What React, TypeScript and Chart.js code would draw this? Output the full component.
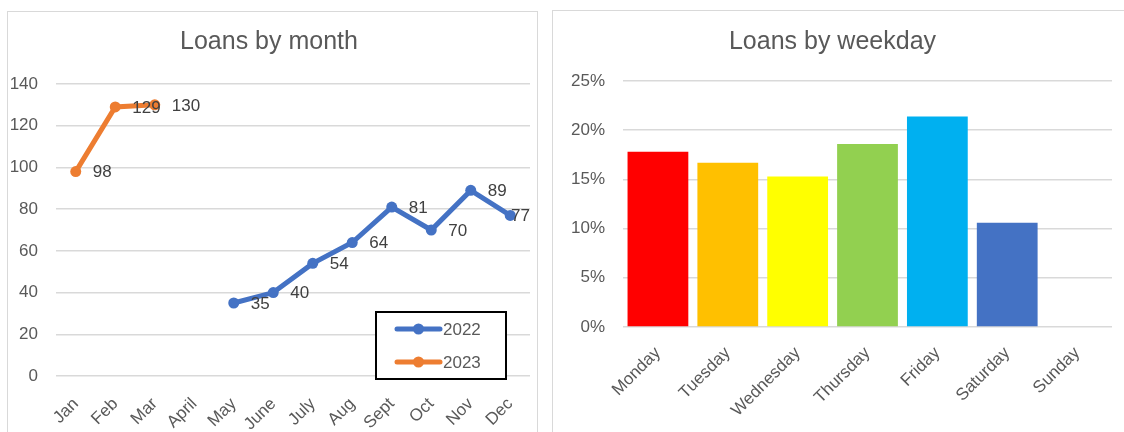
import { useEffect, useRef } from "react";
import { Chart, registerables } from "chart.js";

Chart.register(...registerables);

const FONT = "'Liberation Sans', Arial, sans-serif";
const TICK_COLOR = "#595959";
const GRID_COLOR = "#d9d9d9";

const months = ["Jan", "Feb", "Mar", "April", "May", "June", "July", "Aug", "Sept", "Oct", "Nov", "Dec"];
const loans2022 = [null, null, null, null, 35, 40, 54, 64, 81, 70, 89, 77];
const loans2023 = [98, 129, 130, null, null, null, null, null, null, null, null, null];
const seriesNames = ["2022", "2023"];
const seriesColors = ["#4472C4", "#ED7D31"];
const monthAxisMax = 140;
const monthAxisStep = 20;

const weekdays = ["Monday", "Tuesday", "Wednesday", "Thursday", "Friday", "Saturday", "Sunday"];
const weekdayShare = [17.8, 16.7, 15.3, 18.6, 21.4, 10.6, 0];
const weekdayColors = ["#FF0000", "#FFC000", "#FFFF00", "#92D050", "#00B0F0", "#4472C4", "#7F7F7F"];
const weekdayAxisMax = 25;
const weekdayAxisStep = 5;

const pointLabels = {
  id: "pointLabels",
  afterDatasetsDraw(chart: any) {
    const { ctx, chartArea } = chart;
    ctx.save();
    ctx.font = `17px ${FONT}`;
    ctx.fillStyle = "#404040";
    ctx.textBaseline = "middle";
    ctx.textAlign = "left";
    chart.data.datasets.forEach((ds: any, i: number) => {
      const meta = chart.getDatasetMeta(i);
      meta.data.forEach((pt: any, j: number) => {
        const v = ds.data[j];
        if (v == null) return;
        const text = String(v);
        const w = ctx.measureText(text).width;
        let x = pt.x + 17;
        if (x + w > chartArea.right) x = chartArea.right - w;
        ctx.fillText(text, x, pt.y + 1);
      });
    });
    ctx.restore();
  },
};

const boxLegend = {
  id: "boxLegend",
  afterDraw(chart: any) {
    const { ctx, chartArea } = chart;
    const w = 130;
    const h = 67;
    const x = chartArea.right - 24 - w;
    const y = chartArea.bottom + 3 - h;
    ctx.save();
    ctx.fillStyle = "#ffffff";
    ctx.fillRect(x, y, w, h);
    ctx.strokeStyle = "#000000";
    ctx.lineWidth = 2;
    ctx.strokeRect(x, y, w, h);
    chart.data.datasets.forEach((ds: any, i: number) => {
      const cy = y + 17 + i * 33;
      ctx.strokeStyle = ds.borderColor;
      ctx.fillStyle = ds.borderColor;
      ctx.lineWidth = 5;
      ctx.lineCap = "round";
      ctx.beginPath();
      ctx.moveTo(x + 21, cy);
      ctx.lineTo(x + 64, cy);
      ctx.stroke();
      ctx.beginPath();
      ctx.arc(x + 42.5, cy, 5.5, 0, Math.PI * 2);
      ctx.fill();
      ctx.fillStyle = TICK_COLOR;
      ctx.font = `17px ${FONT}`;
      ctx.textAlign = "left";
      ctx.textBaseline = "middle";
      ctx.fillText(ds.label, x + 67, cy + 1);
    });
    ctx.restore();
  },
};

export default function App() {
  const leftRef = useRef<HTMLCanvasElement>(null);
  const rightRef = useRef<HTMLCanvasElement>(null);

  useEffect(() => {
    const left = new Chart(leftRef.current as HTMLCanvasElement, {
      type: "line",
      data: {
        labels: months,
        datasets: [
          {
            label: seriesNames[0],
            data: loans2022,
            borderColor: seriesColors[0],
            backgroundColor: seriesColors[0],
            borderWidth: 5,
            pointRadius: 5.5,
            pointBorderWidth: 0,
            tension: 0,
            spanGaps: false,
          },
          {
            label: seriesNames[1],
            data: loans2023,
            borderColor: seriesColors[1],
            backgroundColor: seriesColors[1],
            borderWidth: 5,
            pointRadius: 5.5,
            pointBorderWidth: 0,
            tension: 0,
            spanGaps: false,
          },
        ],
      },
      options: {
        responsive: false,
        animation: false,
        layout: { padding: { left: 0, right: 7, top: 0, bottom: 0 } },
        plugins: {
          legend: { display: false },
          tooltip: { enabled: false },
          title: {
            display: true,
            text: "Loans by month",
            color: TICK_COLOR,
            font: { size: 25, family: FONT, weight: "normal" },
            padding: { top: 15, bottom: 27 },
          },
        },
        scales: {
          x: {
            offset: true,
            grid: { display: false },
            border: { display: false },
            ticks: {
              color: TICK_COLOR,
              font: { size: 17, family: FONT },
              minRotation: 45,
              maxRotation: 45,
              autoSkip: false,
              padding: 10,
            },
            afterFit: (s: any) => {
              s.height = 64;
            },
          },
          y: {
            min: 0,
            max: monthAxisMax,
            ticks: {
              stepSize: monthAxisStep,
              color: TICK_COLOR,
              font: { size: 17, family: FONT },
              padding: 18,
            },
            grid: { color: GRID_COLOR, drawTicks: false, lineWidth: 1.5 },
            border: { display: false },
            afterFit: (s: any) => {
              s.width = 48;
            },
          },
        },
      },
      plugins: [pointLabels, boxLegend],
    } as any);

    const right = new Chart(rightRef.current as HTMLCanvasElement, {
      type: "bar",
      data: {
        labels: weekdays,
        datasets: [
          {
            label: "Loans",
            data: weekdayShare,
            backgroundColor: weekdayColors,
            borderWidth: 0,
            barPercentage: 0.87,
            categoryPercentage: 1,
          },
        ],
      },
      options: {
        responsive: false,
        animation: false,
        layout: { padding: { left: 0, right: 25, top: 0, bottom: 0 } },
        plugins: {
          legend: { display: false },
          tooltip: { enabled: false },
          title: {
            display: true,
            text: "Loans by weekday",
            color: TICK_COLOR,
            font: { size: 25, family: FONT, weight: "normal" },
            padding: { top: 16, bottom: 24 },
          },
        },
        scales: {
          x: {
            grid: { display: false },
            border: { display: false },
            ticks: {
              color: TICK_COLOR,
              font: { size: 17, family: FONT },
              minRotation: 45,
              maxRotation: 45,
              autoSkip: false,
              padding: 8,
            },
            afterFit: (s: any) => {
              s.height = 112;
            },
          },
          y: {
            min: 0,
            max: weekdayAxisMax,
            ticks: {
              stepSize: weekdayAxisStep,
              color: TICK_COLOR,
              font: { size: 17, family: FONT },
              padding: 18,
              callback: (v: any) => `${v}%`,
            },
            grid: { color: GRID_COLOR, drawTicks: false, lineWidth: 1.5 },
            border: { display: false },
            afterFit: (s: any) => {
              s.width = 70;
            },
          },
        },
      },
    } as any);

    return () => {
      left.destroy();
      right.destroy();
    };
  }, []);

  return (
    <div
      style={{
        position: "fixed",
        left: 0,
        top: 0,
        width: 1124,
        height: 432,
        overflow: "hidden",
        background: "#ffffff",
      }}
    >
      <div
        style={{
          position: "absolute",
          left: 7,
          top: 11,
          width: 531,
          height: 430,
          border: `1px solid ${GRID_COLOR}`,
          boxSizing: "border-box",
        }}
      >
        <canvas ref={leftRef} width={529} height={428} style={{ display: "block" }} />
      </div>
      <div
        style={{
          position: "absolute",
          left: 552,
          top: 10,
          width: 586,
          height: 430,
          border: `1px solid ${GRID_COLOR}`,
          boxSizing: "border-box",
        }}
      >
        <canvas ref={rightRef} width={584} height={428} style={{ display: "block" }} />
      </div>
    </div>
  );
}
